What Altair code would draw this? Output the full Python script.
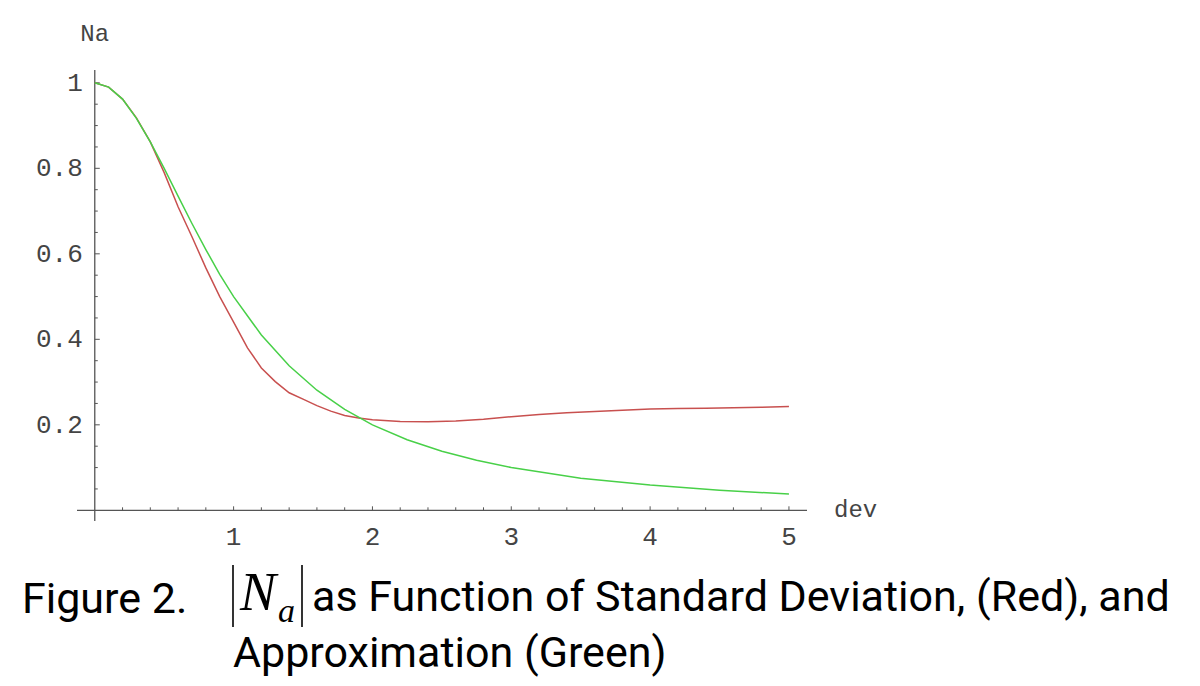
""" |Na| versus standard deviation, exact (red) and approximation (green) """
import altair as alt
import pandas as pd

# exact |Na| (red)
dev_red = [0.0, 0.1, 0.2, 0.3, 0.4, 0.5, 0.6, 0.7, 0.8, 0.9, 1.0, 1.1, 1.2,
           1.3, 1.4, 1.5, 1.6, 1.7, 1.8, 1.9, 2.0, 2.2, 2.4, 2.6, 2.8, 3.0,
           3.2, 3.4, 3.6, 3.8, 4.0, 4.2, 4.4, 4.6, 4.8, 5.0]
na_red = [1.0, 0.99, 0.962, 0.918, 0.862, 0.79, 0.71, 0.64, 0.567, 0.50,
          0.44, 0.38, 0.333, 0.301, 0.275, 0.26, 0.245, 0.232, 0.222, 0.216,
          0.212, 0.208, 0.207, 0.209, 0.213, 0.219, 0.224, 0.228, 0.231,
          0.234, 0.237, 0.238, 0.239, 0.240, 0.241, 0.243]

# approximation (green)
dev_green = [0.0, 0.1, 0.2, 0.3, 0.4, 0.5, 0.6, 0.7, 0.8, 0.9, 1.0, 1.2, 1.4,
             1.6, 1.8, 2.0, 2.25, 2.5, 2.75, 3.0, 3.5, 4.0, 4.5, 5.0]
na_green = [1.0, 0.99, 0.962, 0.917, 0.862, 0.80, 0.735, 0.671, 0.61, 0.552,
            0.50, 0.41, 0.338, 0.281, 0.236, 0.20, 0.165, 0.138, 0.117, 0.10,
            0.075, 0.059, 0.047, 0.038]

# axis ticks
x_major = [1, 2, 3, 4, 5]
x_minor = [0.2, 0.4, 0.6, 0.8, 1.2, 1.4, 1.6, 1.8, 2.2, 2.4, 2.6, 2.8,
           3.2, 3.4, 3.6, 3.8, 4.2, 4.4, 4.6, 4.8]
y_major = [0.2, 0.4, 0.6, 0.8, 1.0]
y_labels = ["0.2", "0.4", "0.6", "0.8", "1"]
y_minor = [0.05, 0.1, 0.15, 0.25, 0.3, 0.35, 0.45, 0.5, 0.55, 0.65, 0.7,
           0.75, 0.85, 0.9, 0.95]

X_DOMAIN = [-0.128, 5.13]
Y_DOMAIN = [-0.025, 1.03]
W, H = 730, 451
AXIS = "#555555"
LABEL = "#444444"
MONO = "Liberation Mono"

xs = alt.Scale(domain=X_DOMAIN, nice=False, zero=False)
ys = alt.Scale(domain=Y_DOMAIN, nice=False, zero=False)
noax = None


def X(field):
    return alt.X(field, type="quantitative", scale=xs, axis=noax)


def Y(field):
    return alt.Y(field, type="quantitative", scale=ys, axis=noax)


red = (alt
    .Chart(pd.DataFrame({"dev": dev_red, "na": na_red}))
    .mark_line(color="#c8504f", strokeWidth=1.5)
    .encode(x=X("dev"), y=Y("na"))
)
green = (alt
    .Chart(pd.DataFrame({"dev": dev_green, "na": na_green}))
    .mark_line(color="#48d048", strokeWidth=1.5)
    .encode(x=X("dev"), y=Y("na"))
)

# axes through the origin
axes_df = pd.DataFrame({"x0": [X_DOMAIN[0], 0.0], "x1": [X_DOMAIN[1], 0.0],
                        "y0": [0.0, -0.025], "y1": [0.0, Y_DOMAIN[1]]})
axes = (alt
    .Chart(axes_df)
    .mark_rule(color=AXIS, strokeWidth=1.3)
    .encode(x=X("x0"), x2="x1", y=Y("y0"), y2="y1")
)


def xticks(values, length):
    df = pd.DataFrame({"v": values, "z": 0.0})
    return (alt.Chart(df)
            .mark_rule(color=AXIS, strokeWidth=1, y2Offset=-length)
            .encode(x=X("v"), y=Y("z"), y2="z"))


def yticks(values, length):
    df = pd.DataFrame({"v": values, "z": 0.0})
    return (alt.Chart(df)
            .mark_rule(color=AXIS, strokeWidth=1, x2Offset=length)
            .encode(y=Y("v"), x=X("z"), x2="z"))


xlab = (alt
    .Chart(pd.DataFrame({"v": x_major, "t": [str(v) for v in x_major], "z": 0.0}))
    .mark_text(font=MONO, fontSize=26, color=LABEL, dy=27, baseline="middle")
    .encode(x=X("v"), y=Y("z"), text="t:N")
)
ylab = (alt
    .Chart(pd.DataFrame({"v": y_major, "t": y_labels, "z": 0.0}))
    .mark_text(font=MONO, fontSize=26, color=LABEL, dx=-12, align="right",
               baseline="middle")
    .encode(x=X("z"), y=Y("v"), text="t:N")
)

na_label = (alt
    .Chart(pd.DataFrame({"z": [0.0], "t": ["Na"]}))
    .mark_text(font=MONO, fontSize=24, color=LABEL, baseline="middle")
    .encode(x=X("z"), y=alt.value(-36), text="t:N")
)
dev_label = (alt
    .Chart(pd.DataFrame({"z": [0.0], "t": ["dev"]}))
    .mark_text(font=MONO, fontSize=24, color=LABEL, align="left",
               baseline="middle")
    .encode(x=alt.value(W + 27), y=Y("z"), text="t:N")
)

# caption under the plot
SANS = "Roboto"


def caption(text, x, y, font=SANS, size=43, style="normal"):
    return (alt.Chart(pd.DataFrame({"t": [text]}))
            .mark_text(font=font, fontSize=size, fontStyle=style, color="black",
                       align="left", baseline="alphabetic")
            .encode(x=alt.value(x), y=alt.value(y), text="t:N"))


bars = (alt
    .Chart(pd.DataFrame({"x": [156, 225]}))
    .mark_rule(color="black", strokeWidth=1.6)
    .encode(x=alt.X("x:Q", scale=None), y=alt.value(495), y2=alt.value(557))
)

layers = [
    axes, xticks(x_minor, 3), xticks(x_major, 4), yticks(y_minor, 3),
    yticks(y_major, 5), red, green, xlab, ylab, na_label, dev_label,
    caption("Figure 2.", -55, 543),
    bars,
    caption("N", 163, 540, font="Liberation Serif", size=54, style="italic"),
    caption("a", 201, 552, font="Liberation Serif", size=34, style="italic"),
    caption("as Function of Standard Deviation, (Red), and", 235, 541),
    caption("Approximation (Green)", 156, 597),
]

chart = (alt
    .layer(*layers)
    .properties(width=W, height=H, autosize="none", background="white",
                padding={"left": 69, "top": 62, "right": 385, "bottom": 162})
    .configure_view(stroke=None, strokeWidth=0)
)

chart.save("out.html", embed_options={"renderer": "svg", "actions": False})
